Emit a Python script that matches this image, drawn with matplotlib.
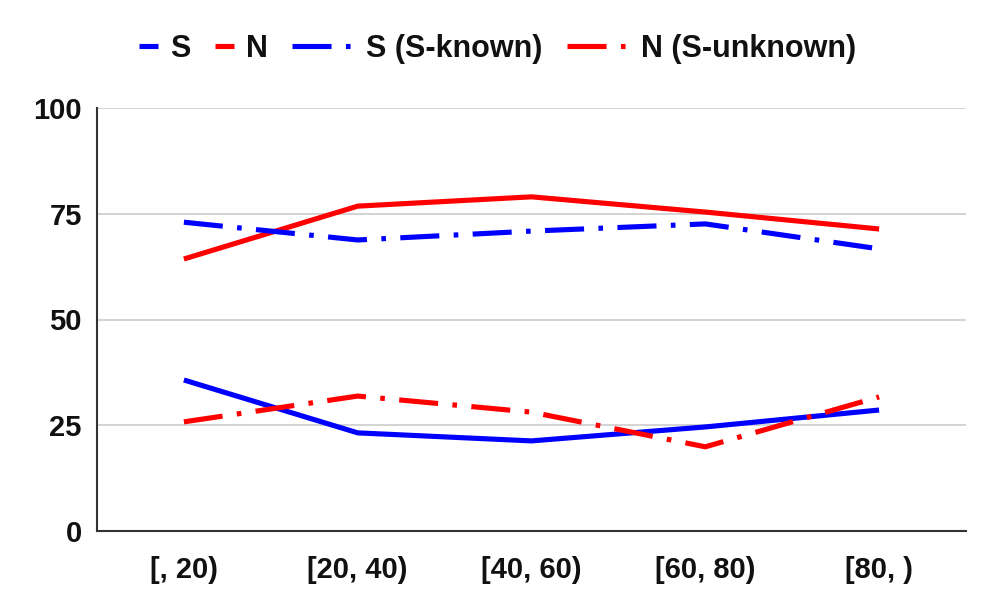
import matplotlib
matplotlib.use("Agg")
import matplotlib.pyplot as plt

categories = ["[, 20)", "[20, 40)", "[40, 60)", "[60, 80)", "[80, )"]
s_all = [35.7, 23.2, 21.3, 24.6, 28.6]
n_all = [64.3, 76.8, 79.0, 75.4, 71.4]
s_known = [73.0, 68.8, 70.9, 72.6, 66.7]
n_unknown = [25.8, 31.9, 28.1, 19.9, 31.7]
yticks = [0, 25, 50, 75, 100]

BLUE = "#0000ff"
RED = "#ff0000"
FONT = "Liberation Sans"
TXT = "#111111"
LW = 3.7
DASHDOT = (0, (7.6, 2.8, 0.9, 2.8))

fig = plt.figure(figsize=(9.97, 6.16), dpi=100)
ax = fig.add_axes([97/997, 1-531/616, (966-97)/997, (531-108)/616])

x = list(range(len(categories)))
l1, = ax.plot(x, s_all, color=BLUE, lw=LW, solid_capstyle="butt", label="S", zorder=3)
l2, = ax.plot(x, n_all, color=RED, lw=LW, solid_capstyle="butt", label="N", zorder=3)
l3, = ax.plot(x, s_known, color=BLUE, lw=LW, linestyle=DASHDOT, dash_capstyle="butt",
              label="S (S-known)", zorder=3)
l4, = ax.plot(x, n_unknown, color=RED, lw=LW, linestyle=DASHDOT, dash_capstyle="butt",
              label="N (S-unknown)", zorder=3)

ax.set_xlim(-0.5, len(categories) - 0.5)
ax.set_ylim(0, 100)
ax.set_yticks(yticks)
ax.set_yticklabels([str(v) for v in yticks])
ax.set_xticks(x)
ax.set_xticklabels(categories)
ax.grid(axis="y", color="#cccccc", lw=1.2, zorder=0)
ax.set_axisbelow(True)
for s in ["top", "right"]:
    ax.spines[s].set_visible(False)
for s in ["left", "bottom"]:
    ax.spines[s].set_color("#333333")
    ax.spines[s].set_linewidth(1.5)
ax.tick_params(axis="both", length=0)
ax.tick_params(axis="y", pad=11)
ax.tick_params(axis="x", pad=18)
for lab in ax.get_yticklabels():
    lab.set_fontfamily(FONT)
    lab.set_fontweight("bold")
    lab.set_fontsize(21)
    lab.set_color(TXT)
for lab in ax.get_xticklabels():
    lab.set_fontfamily(FONT)
    lab.set_fontweight("bold")
    lab.set_fontsize(21)
    lab.set_color(TXT)

prop = {"family": FONT, "weight": "bold", "size": 22}
common = dict(frameon=False, ncol=2, borderpad=0, borderaxespad=0,
              handletextpad=0.4, columnspacing=0.8, prop=prop)
ycen = 1 - 49/616
leg1 = fig.legend([l1, l2], ["S", "N"], loc="center left",
                  bbox_to_anchor=(139/997, ycen), handlelength=0.62, **common)
leg2 = fig.legend([l3, l4], ["S (S-known)", "N (S-unknown)"], loc="center left",
                  bbox_to_anchor=(292/997, ycen), handlelength=2.03, **common)
for lg in (leg1, leg2):
    for t in lg.get_texts():
        t.set_color(TXT)

fig.savefig("out.png", dpi=100)
